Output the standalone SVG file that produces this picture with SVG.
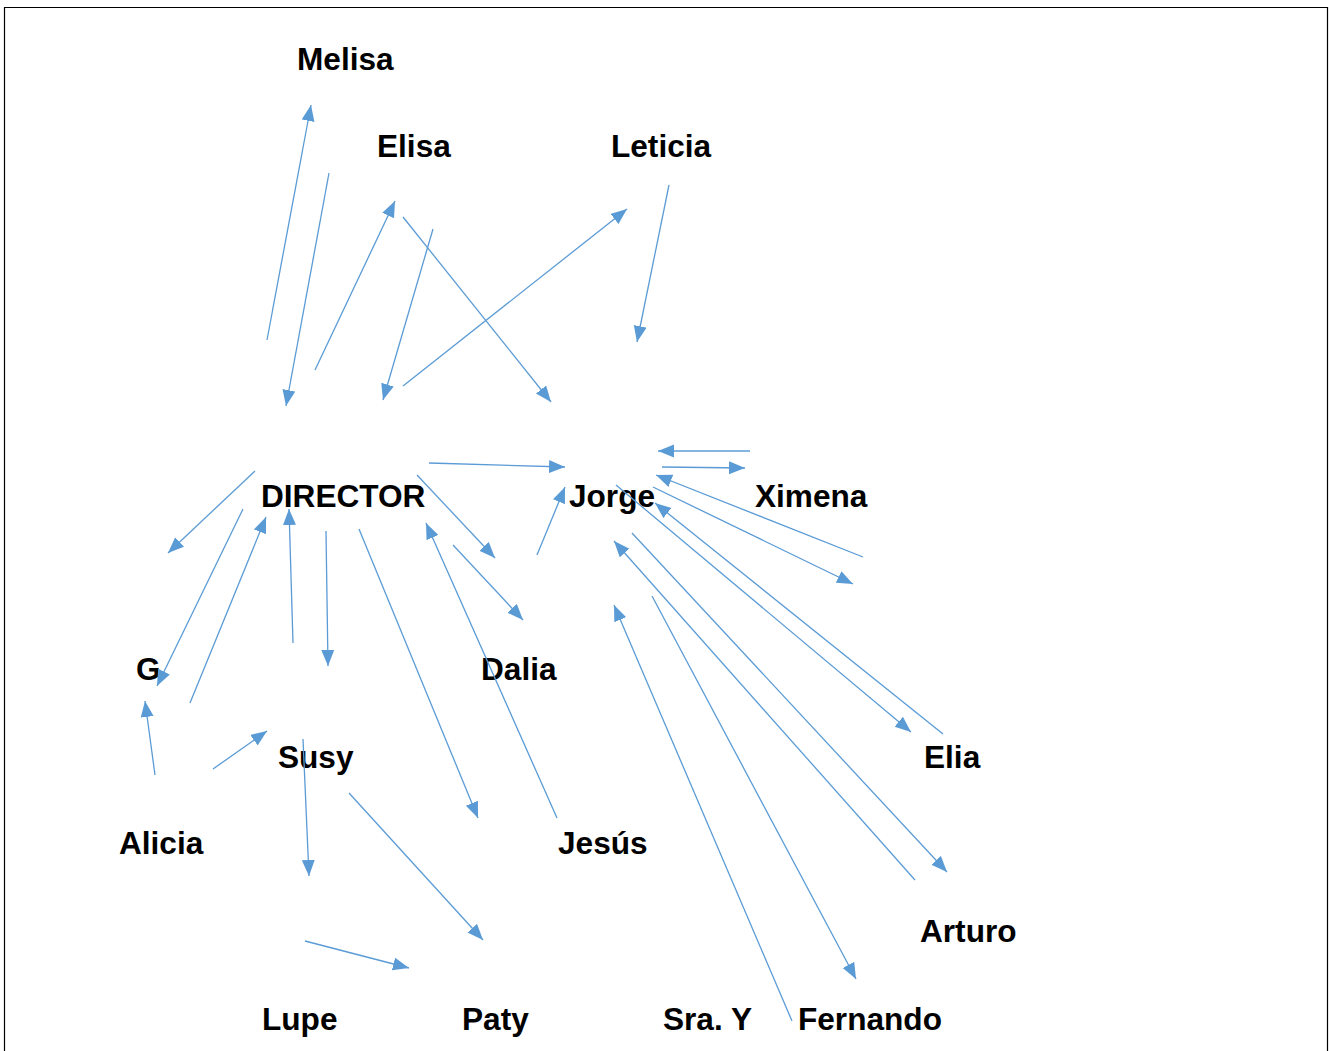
<svg xmlns="http://www.w3.org/2000/svg" width="1329" height="1051" viewBox="0 0 1329 1051">
<style>
.n text{font-family:"Liberation Sans",Arial,sans-serif;font-weight:bold;font-size:31.6px;fill:#000}
.c line{stroke:#5B9BD5;stroke-width:1.3;marker-end:url(#ah)}
</style>
<defs>
<marker id="ah" markerUnits="userSpaceOnUse" markerWidth="18" markerHeight="14" refX="16" refY="6.5" orient="auto">
<path d="M0,0 L16,6.5 L0,13 Z" fill="#5B9BD5"/>
</marker>
</defs>
<rect width="1329" height="1051" fill="#fff"/>
<path d="M4.5,1051 V7.5 H1327.5 V1051" fill="none" stroke="#000" stroke-width="1.2"/>
<g class="n">
<g id="melisa"><text x="297" y="70">Melisa</text></g>
<g id="elisa"><text x="377" y="157">Elisa</text></g>
<g id="leticia"><text x="611" y="157">Leticia</text></g>
<g id="director"><text x="261" y="507">DIRECTOR</text></g>
<g id="jorge"><text x="569" y="507">Jorge</text></g>
<g id="ximena"><text x="755" y="507">Ximena</text></g>
<g id="g"><text x="136" y="680">G</text></g>
<g id="dalia"><text x="481" y="680">Dalia</text></g>
<g id="susy"><text x="278" y="768">Susy</text></g>
<g id="elia"><text x="924" y="768">Elia</text></g>
<g id="alicia"><text x="119" y="854">Alicia</text></g>
<g id="jesus"><text x="558" y="854">Jesús</text></g>
<g id="arturo"><text x="920" y="942">Arturo</text></g>
<g id="lupe"><text x="262" y="1030">Lupe</text></g>
<g id="paty"><text x="462" y="1030">Paty</text></g>
<g id="sray"><text x="663" y="1030">Sra. Y</text></g>
<g id="fernando"><text x="798" y="1030">Fernando</text></g>
</g>
<g class="c" id="connectors">
<line x1="267" y1="340" x2="311" y2="105"/>
<line x1="329" y1="173" x2="286" y2="406"/>
<line x1="315" y1="370" x2="395" y2="201"/>
<line x1="433" y1="229" x2="383" y2="400"/>
<line x1="403" y1="217" x2="551" y2="402"/>
<line x1="403" y1="386" x2="627" y2="209"/>
<line x1="669" y1="185" x2="637" y2="342"/>
<line x1="429" y1="463" x2="565" y2="467"/>
<line x1="255" y1="471" x2="168" y2="553"/>
<line x1="243" y1="509" x2="157" y2="686"/>
<line x1="190" y1="703" x2="266" y2="517"/>
<line x1="293" y1="643" x2="289" y2="509"/>
<line x1="326" y1="531" x2="328" y2="666"/>
<line x1="359" y1="529" x2="478" y2="818"/>
<line x1="557" y1="818" x2="426" y2="523"/>
<line x1="417" y1="475" x2="495" y2="558"/>
<line x1="453" y1="545" x2="523" y2="620"/>
<line x1="537" y1="555" x2="565" y2="487"/>
<line x1="750" y1="451" x2="658" y2="451"/>
<line x1="662" y1="467" x2="745" y2="468"/>
<line x1="863" y1="557" x2="656" y2="475"/>
<line x1="653" y1="487" x2="853" y2="584"/>
<line x1="616" y1="485" x2="911" y2="732"/>
<line x1="943" y1="734" x2="655" y2="503"/>
<line x1="632" y1="533" x2="947" y2="872"/>
<line x1="915" y1="880" x2="614" y2="541"/>
<line x1="652" y1="596" x2="856" y2="979"/>
<line x1="792" y1="1021" x2="614" y2="605"/>
<line x1="155" y1="775" x2="145" y2="701"/>
<line x1="213" y1="769" x2="267" y2="731"/>
<line x1="303" y1="739" x2="309" y2="876"/>
<line x1="349" y1="793" x2="483" y2="940"/>
<line x1="305" y1="941" x2="409" y2="968"/>
</g>
</svg>
